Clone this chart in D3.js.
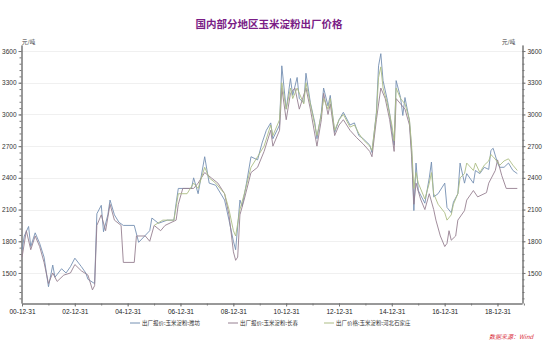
<!DOCTYPE html>
<html lang="zh">
<head>
<meta charset="UTF-8">
<title>国内部分地区玉米淀粉出厂价格</title>
<style>
	body{margin:0;background:#fff;}
	svg{display:block;font-family:"Noto Sans CJK SC","Noto Sans",sans-serif;}
	.tick text{fill:#333;}
</style>
</head>
<body>
<div id="chart"></div>
<script src="https://d3js.org/d3.v7.min.js"></script>
<script>
	// 出厂报价:玉米淀粉:潍坊
	var weifang = [
	['2001-01',1720],['2001-02',1850],['2001-04',1940],['2001-05',1750],['2001-07',1880],['2001-09',1780],['2001-11',1650],
	['2002-01',1370],['2002-03',1575],['2002-04',1460],['2002-07',1540],['2002-09',1500],['2002-11',1560],
	['2003-01',1640],['2003-04',1560],['2003-06',1500],['2003-07',1440],['2003-10',1400],['2003-11',2060],
	['2004-01',2140],['2004-02',1890],['2004-04',2050],['2004-05',2190],['2004-07',2050],['2004-09',1980],['2004-11',1950],
	['2005-04',1950],['2005-06',1790],['2005-11',1900],['2005-12',2020],
	['2006-03',1970],['2006-07',2000],['2006-10',2000],['2006-11',2160],['2006-12',2300],
	['2007-06',2300],['2007-07',2400],['2007-09',2250],['2007-12',2600],
	['2008-02',2350],['2008-05',2330],['2008-09',2190],['2008-11',2000],
	['2009-01',1800],['2009-02',1720],['2009-04',2190],['2009-05',2130],['2009-07',2350],['2009-09',2600],['2009-12',2570],
	['2010-02',2730],['2010-04',2850],['2010-06',2920],['2010-07',2770],['2010-10',2900],['2010-11',3460],
	['2011-01',3050],['2011-03',3340],['2011-04',3180],['2011-06',3350],['2011-07',3150],['2011-09',3110],['2011-10',3390],['2011-12',3110],
	['2012-02',2920],['2012-03',2770],['2012-05',3020],['2012-06',3250],['2012-08',3080],['2012-09',3180],['2012-11',2830],
	['2013-01',2950],['2013-03',3020],['2013-06',2900],['2013-08',2920],['2013-10',2800],['2013-12',2770],
	['2014-03',2710],['2014-04',2640],['2014-06',3020],['2014-07',3460],['2014-08',3575],['2014-09',3320],['2014-11',3130],['2014-12',3010],
	['2015-01',2850],['2015-02',2710],['2015-03',3320],['2015-05',3160],['2015-06',2990],['2015-07',3160],['2015-09',2940],['2015-10',2660],['2015-11',2090],['2015-12',2540],
	['2016-01',2280],['2016-04',2160],['2016-06',2400],['2016-07',2550],['2016-08',2220],['2016-10',2250],
	['2017-01',2350],['2017-02',2120],['2017-04',2070],['2017-05',2170],['2017-07',2250],['2017-08',2540],['2017-10',2350],['2017-11',2440],
	['2018-02',2350],['2018-03',2470],['2018-05',2440],['2018-07',2500],['2018-09',2480],['2018-10',2660],['2018-11',2680],
	['2019-01',2540],['2019-02',2500],['2019-04',2500],['2019-06',2540],['2019-08',2470],['2019-10',2440]
	];

	// 出厂报价:玉米淀粉:长春
	var changchun = [
	['2001-01',1650],['2001-03',1900],['2001-05',1720],['2001-07',1850],['2001-09',1750],['2001-11',1600],
	['2002-01',1400],['2002-03',1500],['2002-05',1420],['2002-08',1480],['2002-11',1500],
	['2003-01',1580],['2003-04',1520],['2003-07',1480],['2003-09',1340],['2003-10',1380],['2003-11',1950],
	['2004-01',2050],['2004-03',1900],['2004-05',2150],['2004-07',2000],['2004-10',1950],['2004-11',1600],
	['2005-04',1600],['2005-05',1850],['2005-09',1850],['2005-11',1800],
	['2006-01',1950],['2006-04',1900],['2006-06',1950],['2006-11',2000],['2006-12',2150],
	['2007-02',2300],['2007-07',2300],['2007-09',2350],['2007-12',2450],
	['2008-03',2400],['2008-06',2350],['2008-09',2250],['2008-11',2050],
	['2009-01',1700],['2009-02',1620],['2009-03',1650],['2009-04',2050],['2009-06',2200],['2009-09',2450],['2009-12',2500],
	['2010-03',2650],['2010-06',2850],['2010-07',2700],['2010-10',2850],['2010-11',3250],
	['2011-01',2950],['2011-03',3200],['2011-05',3250],['2011-07',3050],['2011-10',3250],['2011-12',3050],
	['2012-03',2700],['2012-05',2950],['2012-06',3200],['2012-08',3000],['2012-09',3100],['2012-11',2800],
	['2013-01',2900],['2013-03',2950],['2013-06',2850],['2013-09',2780],['2013-12',2720],
	['2014-03',2650],['2014-04',2600],['2014-06',2950],['2014-08',3250],['2014-10',3150],['2014-12',2950],
	['2015-02',2650],['2015-03',3150],['2015-05',3100],['2015-07',3050],['2015-09',2900],['2015-10',2600],['2015-11',2150],['2015-12',2350],
	['2016-02',2200],['2016-04',2100],['2016-06',2250],['2016-08',2100],['2016-09',2000],['2016-11',1850],
	['2017-01',1750],['2017-02',1780],['2017-03',1900],['2017-04',1810],['2017-06',1850],['2017-07',2000],['2017-10',2090],['2017-11',2190],
	['2018-02',2280],['2018-04',2220],['2018-08',2260],['2018-09',2350],['2018-12',2470],
	['2019-01',2570],['2019-03',2420],['2019-05',2300],['2019-10',2300]
	];

	// 出厂价格:玉米淀粉:河北石家庄
	var hebei = [
	['2006-01',1950],['2006-05',2000],['2006-10',2000],['2006-12',2250],
	['2007-04',2250],['2007-07',2350],['2007-09',2300],['2007-12',2500],
	['2008-02',2400],['2008-05',2350],['2008-09',2250],['2008-11',2100],
	['2009-01',1900],['2009-02',1850],['2009-04',2100],['2009-06',2250],['2009-09',2500],['2009-12',2600],
	['2010-03',2700],['2010-06',2900],['2010-07',2800],['2010-10',2950],['2010-11',3300],
	['2011-01',3050],['2011-03',3250],['2011-04',3150],['2011-06',3250],['2011-09',3100],['2011-10',3300],['2011-12',3100],
	['2012-03',2800],['2012-05',3000],['2012-06',3150],['2012-08',3050],['2012-09',3150],['2012-11',2850],
	['2013-01',2950],['2013-03',3000],['2013-06',2880],['2013-08',2900],['2013-10',2820],['2013-12',2760],
	['2014-03',2700],['2014-04',2660],['2014-06',3000],['2014-07',3350],['2014-08',3450],['2014-09',3250],['2014-11',3100],
	['2015-01',2900],['2015-02',2750],['2015-03',3250],['2015-05',3150],['2015-07',3100],['2015-09',2950],['2015-10',2700],['2015-11',2300],['2015-12',2450],
	['2016-01',2350],['2016-04',2200],['2016-06',2350],['2016-07',2450],['2016-08',2250],['2016-10',2150],
	['2017-01',2070],['2017-02',2000],['2017-04',2050],['2017-05',2150],['2017-07',2250],['2017-08',2400],['2017-10',2440],['2017-11',2540],
	['2018-02',2470],['2018-03',2540],['2018-05',2450],['2018-07',2520],['2018-09',2560],['2018-10',2620],['2018-11',2600],
	['2019-01',2550],['2019-02',2520],['2019-04',2560],['2019-06',2580],['2019-08',2520],['2019-10',2470]
	];

	var seriesNames = ['出厂报价:玉米淀粉:潍坊','出厂报价:玉米淀粉:长春','出厂价格:玉米淀粉:河北石家庄'];
	var seriesColors = ['#7590b2','#968091','#adbd85'];
	var yTicks = [1500,1800,2100,2400,2700,3000,3300,3600];
	var xTickLabels = ['00-12-31','02-12-31','04-12-31','06-12-31','08-12-31','10-12-31','12-12-31','14-12-31','16-12-31','18-12-31'];

	var W = 550, H = 352;
	var plotL = 22, plotR = 522, plotT = 45, plotB = 303;

	var parseMonth = d3.timeParse('%Y-%m');
	var parseTick = d3.timeParse('%y-%m-%d');
	var fmtTick = d3.timeFormat('%y-%m-%d');

	var svg = d3.select('#chart').append('svg')
		.attr('width', W)
		.attr('height', H);

	var x = d3.scaleTime()
		.domain([new Date(2000, 11, 31), new Date(2019, 11, 5)])
		.range([plotL, plotR]);

	var y = d3.scaleLinear()
		.domain([1216, 3657])
		.range([plotB, plotT]);

	// title
	svg.append('text')
		.attr('x', 269)
		.attr('y', 28)
		.attr('text-anchor', 'middle')
		.style('font-size', '10.5px')
		.style('font-weight', 'bold')
		.style('fill', '#7a1d86')
		.text('国内部分地区玉米淀粉出厂价格');

	// gridlines
	svg.append('g')
		.selectAll('line')
		.data(yTicks)
		.enter()
			.append('line')
			.attr('x1', plotL).attr('x2', plotR)
			.attr('y1', d => Math.round(y(d)) + 0.5)
			.attr('y2', d => Math.round(y(d)) + 0.5)
			.style('stroke', '#f0f0f0');

	var minorY = d3.range(1260, 3640, 60);

	// left axis
	var gl = svg.append('g')
		.attr('transform', 'translate(' + (plotL - 0.5) + ',0)');
	gl.append('g').call(d3.axisLeft(y).tickValues(minorY).tickSize(2).tickSizeOuter(0).tickFormat(''));
	gl.append('g').call(d3.axisLeft(y).tickValues(yTicks).tickSize(3).tickSizeOuter(0).tickPadding(2).tickFormat(d3.format('d')));
	gl.selectAll('.tick text').style('font-size', '6.5px');

	// right axis
	var gr = svg.append('g')
		.attr('transform', 'translate(' + (plotR + 0.5) + ',0)');
	gr.append('g').call(d3.axisRight(y).tickValues(minorY).tickSize(2).tickSizeOuter(0).tickFormat(''));
	gr.append('g').call(d3.axisRight(y).tickValues(yTicks).tickSize(3).tickSizeOuter(0).tickPadding(2).tickFormat(d3.format('d')));
	gr.selectAll('.tick text').style('font-size', '6.5px');

	// bottom axis
	var majorX = xTickLabels.map(parseTick);
	var minorX = d3.range(2001, 2020).map(yr => new Date(yr, 11, 31));
	var gb = svg.append('g')
		.attr('transform', 'translate(0,' + (plotB + 0.5) + ')');
	gb.append('g').call(d3.axisBottom(x).tickValues(minorX).tickSize(2).tickSizeOuter(0).tickFormat(''));
	gb.append('g').call(d3.axisBottom(x).tickValues(majorX).tickSize(3).tickSizeOuter(0).tickPadding(3).tickFormat(fmtTick));
	gb.selectAll('.tick text').style('font-size', '6.5px').style('fill', '#222');

	svg.selectAll('.domain, .tick line').style('stroke', '#777');

	// units
	svg.append('text').attr('x', 22).attr('y', 44)
		.style('font-size', '5.5px').style('fill', '#333').text('元/吨');
	svg.append('text').attr('x', 502).attr('y', 44)
		.style('font-size', '5.5px').style('fill', '#333').text('元/吨');

	// lines
	var line = d3.line()
		.x(d => x(parseMonth(d[0])))
		.y(d => y(d[1]));

	var allSeries = [weifang, changchun, hebei];
	svg.append('g')
		.selectAll('path')
		.data(allSeries)
		.enter()
			.append('path')
			.attr('d', line)
			.style('fill', 'none')
			.style('stroke', (d, i) => seriesColors[i])
			.style('stroke-width', 0.9)
			.style('stroke-linejoin', 'round');

	// legend
	var legX = [130, 228, 324];
	var leg = svg.append('g')
		.selectAll('g')
		.data(seriesNames)
		.enter()
			.append('g')
			.attr('transform', (d, i) => 'translate(' + legX[i] + ',325)');
	leg.append('line')
		.attr('x1', 0).attr('x2', 10)
		.attr('y1', -2).attr('y2', -2)
		.style('stroke', (d, i) => seriesColors[i]);
	leg.append('text')
		.attr('x', 12)
		.style('font-size', '5.5px')
		.style('fill', '#333')
		.text(d => d);

	// source
	svg.append('text')
		.attr('x', 489)
		.attr('y', 339)
		.style('font-size', '6px')
		.style('font-style', 'italic')
		.style('fill', '#d9303c')
		.text('数据来源：Wind');
</script>
</body>
</html>
